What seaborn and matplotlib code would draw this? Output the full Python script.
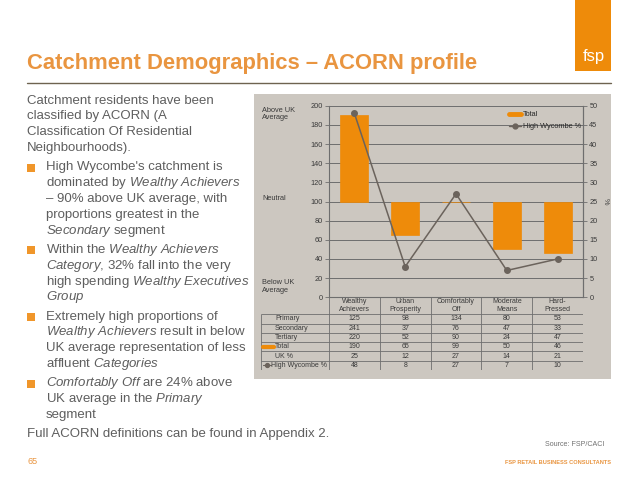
#!/usr/bin/env python3
"""Catchment demographics slide: ACORN profile bars + High Wycombe % line with data table."""
import matplotlib

matplotlib.use("Agg")
import matplotlib.pyplot as plt
import numpy as np
import pandas as pd
import seaborn as sns
from matplotlib.lines import Line2D
from matplotlib.patches import Rectangle

CATEGORIES = ["Wealthy\nAchievers", "Urban\nProsperity", "Comfortably\nOff",
              "Moderate\nMeans", "Hard-\nPressed"]
PRIMARY = [125, 98, 134, 80, 53]
SECONDARY = [241, 37, 76, 47, 33]
TERTIARY = [220, 52, 90, 24, 47]
TOTAL = [190, 65, 99, 50, 46]
UK_PCT = [25, 12, 27, 14, 21]
HW_PCT = [48, 8, 27, 7, 10]
ROW_LABELS = ["Primary", "Secondary", "Tertiary", "Total", "UK %", "High Wycombe %"]
NEUTRAL = 100
LEFT_TICKS = list(range(0, 201, 20))
RIGHT_TICKS = list(range(0, 51, 5))

TITLE = "Catchment Demographics \u2013 ACORN profile"
PARAGRAPHS = [
    (False, ["Catchment residents have been",
             "classified by ACORN (A",
             "Classification Of Residential",
             "Neighbourhoods)."]),
    (True, ["High Wycombe's catchment is",
            r"dominated by $\mathit{Wealthy\ Achievers}$",
            "\u2013 90% above UK average, with",
            "proportions greatest in the",
            r"$\mathit{Secondary}$ segment"]),
    (True, [r"Within the $\mathit{Wealthy\ Achievers}$",
            r"$\mathit{Category}$, 32% fall into the very",
            r"high spending $\mathit{Wealthy\ Executives}$",
            r"$\mathit{Group}$"]),
    (True, ["Extremely high proportions of",
            r"$\mathit{Wealthy\ Achievers}$ result in below",
            "UK average representation of less",
            r"affluent $\mathit{Categories}$"]),
    (True, [r"$\mathit{Comfortably\ Off}$ are 24% above",
            r"UK average in the $\mathit{Primary}$",
            "segment"]),
    (False, ["Full ACORN definitions can be found in Appendix 2."]),
]

ORANGE = "#EE8B0A"
TITLE_ORANGE = "#E99540"
BULLET = "#F0962A"
PANEL = "#CCC7C0"
AXIS = "#6E6E6E"
LINE = "#6B635C"
BODY = "#5E5E5E"
TXT = "#3A3A3A"

W, H = 638, 479


def fx(x):
    return x / W


def fy(y):
    return 1 - y / H


sns.set_theme(style="white")
plt.rcParams["font.family"] = ["Liberation Sans", "DejaVu Sans"]
plt.rcParams["mathtext.fontset"] = "custom"
plt.rcParams["mathtext.rm"] = "Liberation Sans"
plt.rcParams["mathtext.it"] = "Liberation Sans:italic"

fig = plt.figure(figsize=(W / 100, H / 100), dpi=100)
fig.patch.set_facecolor("white")

# header: title, rule, logo
fig.text(fx(27), fy(69.5), TITLE, fontsize=15.8, fontweight="bold",
         color=TITLE_ORANGE, va="baseline")
fig.add_artist(Line2D([fx(27), fx(611)], [fy(83), fy(83)], color="#6E6350", lw=1))
fig.add_artist(Rectangle((fx(574.7), fy(70.7)), (611.3 - 574.7) / W, 70.7 / H,
                         transform=fig.transFigure, facecolor=ORANGE, lw=0))
fig.text(fx(594), fy(61), "fsp", fontsize=12, color="white", ha="center", va="baseline")

# body text
y = 103.5
for bullet, lines in PARAGRAPHS:
    for i, line in enumerate(lines):
        x = 45.5 if bullet else 27
        if bullet and i == 0:
            fig.add_artist(Rectangle((fx(27), fy(y + 1.3)), 7.7 / W, 7.7 / H,
                                     transform=fig.transFigure, facecolor=BULLET, lw=0))
        fig.text(fx(x), fy(y), line, fontsize=9.5, color=BODY, va="baseline")
        y += 15.85
    y += 19.2 - 15.85

# footer
fig.text(fx(27), fy(464), "65", fontsize=6.5, color=TITLE_ORANGE, va="baseline")
fig.text(fx(604), fy(446), "Source: FSP/CACI", fontsize=5.1, color="#707070",
         ha="right", va="baseline")
fig.text(fx(611), fy(464), "FSP RETAIL BUSINESS CONSULTANTS", fontsize=4.1,
         fontweight="bold", color=TITLE_ORANGE, ha="right", va="baseline")

# chart panel
fig.add_artist(Rectangle((fx(254), fy(378.5)), (611 - 254) / W, (378.5 - 94) / H,
                         transform=fig.transFigure, facecolor=PANEL, lw=0, zorder=-1))

AX_L, AX_R, AX_T, AX_B = 329, 583, 105.7, 297.3
ax = fig.add_axes([fx(AX_L), fy(AX_B), (AX_R - AX_L) / W, (AX_B - AX_T) / H])
ax.set_facecolor("none")

bars = pd.DataFrame({"category": CATEGORIES,
                     "offset": np.array(TOTAL) - NEUTRAL})
sns.barplot(data=bars, x="category", y="offset", bottom=NEUTRAL, color=ORANGE,
            saturation=1, width=0.55, linewidth=0.5, edgecolor=ORANGE, ax=ax, zorder=3)
ax.set_xlim(-0.5, len(CATEGORIES) - 0.5)
ax.set_ylim(0, 200)
ax.set_yticks(LEFT_TICKS)
ax.set_xticks([])
ax.set_xlabel("")
ax.set_ylabel("")
ax.yaxis.grid(True, color=AXIS, lw=0.7)
ax.set_axisbelow(True)
ax.tick_params(axis="y", labelsize=5.3, length=3, width=0.6, color=AXIS,
               labelcolor=TXT, pad=1.5, left=True)
ax.spines["top"].set_visible(False)
for side in ("left", "right", "bottom"):
    ax.spines[side].set_color(AXIS)
    ax.spines[side].set_linewidth(0.8)

ax2 = ax.twinx()
ax2.plot(np.arange(len(HW_PCT)), HW_PCT, color=LINE, lw=1.1, marker="o",
         markersize=4, markerfacecolor=LINE, markeredgecolor=LINE, zorder=4)
ax2.set_ylim(0, 50)
ax2.set_yticks(RIGHT_TICKS)
ax2.tick_params(axis="y", labelsize=5.3, length=3, width=0.6, color=AXIS,
                labelcolor=TXT, pad=1.5, right=True)
for side in ("left", "top", "bottom"):
    ax2.spines[side].set_visible(False)
ax2.spines["right"].set_color(AXIS)
ax2.spines["right"].set_linewidth(0.8)

fig.text(fx(262), fy(106.7), "Above UK\nAverage", fontsize=5.3, color=TXT,
         va="top", linespacing=1.1)
fig.text(fx(262), fy(198.3), "Neutral", fontsize=5.3, color=TXT, va="center")
fig.text(fx(262), fy(279.5), "Below UK\nAverage", fontsize=5.3, color=TXT,
         va="top", linespacing=1.1)
fig.text(fx(605.5), fy(201), "%", fontsize=5.3, color=TXT, rotation=-90,
         ha="center", va="center")

handles = [Line2D([0], [0], color=ORANGE, lw=3.5),
           Line2D([0], [0], color=LINE, lw=1, marker="o", markersize=3.5)]
fig.legend(handles, ["Total", "High Wycombe %"], loc="upper left",
           bbox_to_anchor=(fx(509), fy(111)), frameon=False, fontsize=5.3,
           handlelength=1.6, handletextpad=0.3, labelspacing=0.7,
           borderaxespad=0, borderpad=0)

# data table
CAT_W = (AX_R - AX_L) / len(CATEGORIES)
LAB_W = (AX_L - 261) / CAT_W
ROW_H = 9.3
HDR_H = (314.3 - AX_B) / ROW_H
TB_T, TB_B = AX_B, 370
tax = fig.add_axes([fx(261), fy(TB_B), (AX_R - 261) / W, (TB_B - TB_T) / H])
tax.set_facecolor("none")
tax.set_axis_off()
n_rows = len(ROW_LABELS)
x0 = -0.5 - LAB_W
tax.set_xlim(x0, len(CATEGORIES) - 0.5)
tax.set_ylim(n_rows, -HDR_H)

col_edges = np.arange(len(CATEGORIES) + 1) - 0.5
tax.vlines(col_edges, -HDR_H, n_rows, color=AXIS, lw=0.6)
tax.vlines([x0], 0, n_rows, color=AXIS, lw=0.6)
tax.hlines(np.arange(n_rows + 1), x0, col_edges[-1], color=AXIS, lw=0.6)

for i, cat in enumerate(CATEGORIES):
    tax.text(i, -HDR_H / 2, cat, fontsize=5, color=TXT, ha="center",
             va="center", linespacing=1.15)

table_rows = [PRIMARY, SECONDARY, TERTIARY, TOTAL, UK_PCT, HW_PCT]
px = 1 / CAT_W
for k, (label, values) in enumerate(zip(ROW_LABELS, table_rows)):
    yc = k + 0.5
    lx = x0 + 14 * px
    if label == "Total":
        tax.plot([x0 + 1.7 * px, x0 + 12.5 * px], [yc, yc], color=ORANGE, lw=3)
    if label == "High Wycombe %":
        tax.plot([x0 + 1.7 * px, x0 + 9.7 * px], [yc, yc], color=LINE, lw=0.8)
        tax.plot([x0 + 5.7 * px], [yc], marker="o", color=LINE, markersize=2.8)
        lx = x0 + 10 * px
    tax.text(lx, yc, label, fontsize=5, color=TXT, ha="left", va="center")
    for i, v in enumerate(values):
        tax.text(i, yc, str(v), fontsize=5, color=TXT, ha="center", va="center")

fig.savefig("out.png", dpi=100)
